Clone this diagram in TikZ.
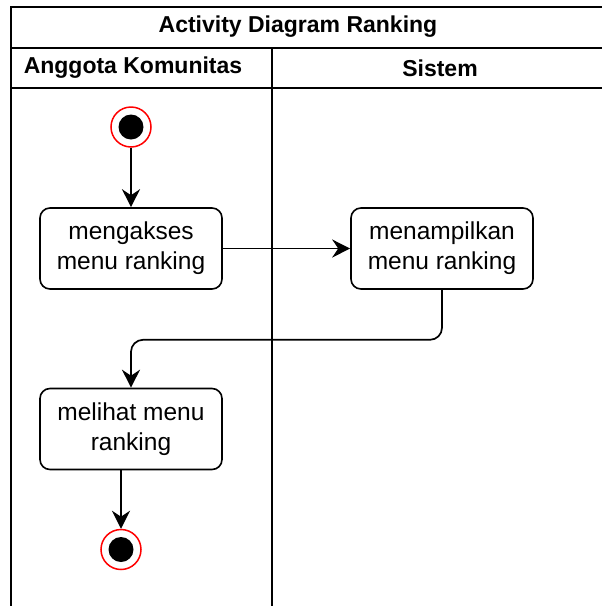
\documentclass[tikz,border=0pt]{standalone}
\usepackage{fontspec}
\setmainfont{Liberation Sans}
\usetikzlibrary{arrows.meta}

\tikzset{
	lane/.style={line width=1.6pt},
	action/.style={draw, line width=1.6pt, rounded corners=10pt, minimum width=182pt, minimum height=81pt, align=center, inner sep=2pt, font=\fontsize{24.5}{30}\selectfont},
	initial/.style={circle, draw=red, line width=1.5pt, minimum size=40pt, inner sep=0pt, path picture={\fill[black] (path picture bounding box.center) circle (12.5pt);}},
	head/.style={font=\bfseries\fontsize{23}{28}\selectfont},
	flow/.style={line width=1.7pt, -{Stealth[length=18pt, width=18pt, inset=6pt]}}
}

\begin{document}
\begin{tikzpicture}[x=1pt, y=-1pt]
				\useasboundingbox (0,0) rectangle (602,606);
				\clip (0,0) rectangle (602,606);
				
				\draw[lane] (11,610) -- (11,7) -- (620,7);
				\draw[lane] (11,48) -- (620,48);
				\draw[lane] (11,88) -- (620,88);
				\draw[lane] (272,48) -- (272,610);
				
				\node[head] (judul) at (298,27) {Activity Diagram Ranking};
				\node[head] (anggota) at (133,68) {Anggota Komunitas};
				\node[head] (sistem) at (440,68) {Sistem};
				
				\node[initial] (start) at (131,127) {};
				\node[action] (akses) at (131,248.5) {mengakses\\menu ranking};
				\node[action] (tampil) at (442,248.5) {menampilkan\\menu ranking};
				\node[action] (lihat) at (131,429) {melihat menu\\ranking};
				\node[initial] (stop) at (121,549.5) {};
				
				\draw[flow] (start) -- (akses);
				\draw[flow] (akses) -- (tampil);
				\draw[flow, rounded corners=12pt] (tampil.south) -- ++(0,50) -| (lihat.north);
				\draw[flow] ([xshift=-10pt]lihat.south) -- (stop);
			\end{tikzpicture}
\end{document}
